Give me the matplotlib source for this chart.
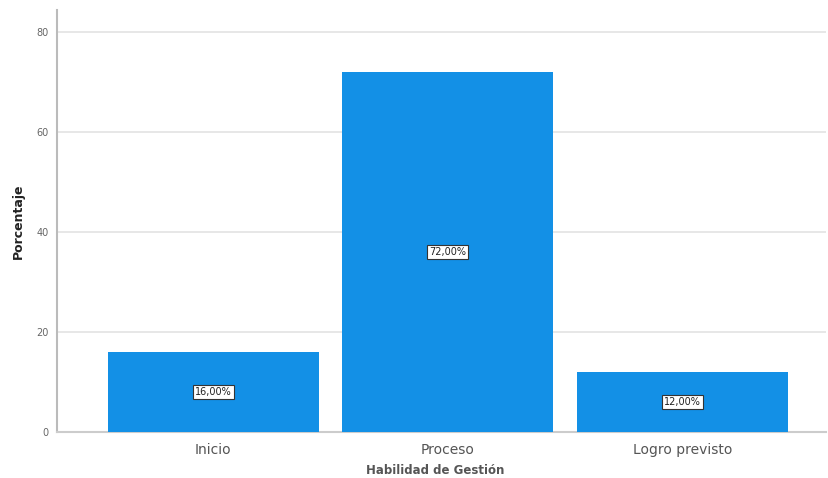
import matplotlib
matplotlib.use("Agg")
import matplotlib.pyplot as plt

categories = ["Inicio", "Proceso", "Logro previsto"]
values = [16.0, 72.0, 12.0]
yticks = [0, 20, 40, 60, 80]

fig = plt.figure(figsize=(8.29, 4.78), dpi=100)
ax = fig.add_axes([0.0688, 0.0962, 0.9272, 0.883])

x = list(range(len(categories)))
bars = ax.bar(x, values, width=0.9, color="#1390E6", zorder=3)
for xi, v in zip(x, values):
    ax.text(xi, v / 2, f"{v:.2f}%".replace(".", ","), ha="center", va="center",
            fontsize=7, color="#222222", zorder=4,
            bbox=dict(boxstyle="square,pad=0.2", fc="white", ec="#333333", lw=0.8))

ax.set_xlim(-0.667, 2.612)
ax.set_ylim(0, 84.4)
ax.set_yticks(yticks)
ax.set_yticklabels([str(t) for t in yticks], fontsize=7, color="#666666")
ax.set_xticks(x)
ax.set_xticklabels(categories, fontsize=10, color="#555555")
ax.tick_params(axis="both", length=0, pad=6)
ax.tick_params(axis="x", pad=8)
ax.yaxis.grid(True, color="#e3e3e3", lw=1.2, zorder=0)
for s in ["top", "right"]:
    ax.spines[s].set_visible(False)
ax.spines["left"].set_color("#bbbbbb")
ax.spines["left"].set_linewidth(1.5)
ax.spines["bottom"].set_color("#cccccc")
ax.spines["bottom"].set_linewidth(1.5)

ax.set_ylabel("Porcentaje", fontsize=9, fontweight="bold", color="#222222", labelpad=8)
fig.text(0.525, 0.003, "Habilidad de Gestión", ha="center", va="bottom", fontsize=8.5,
         fontweight="bold", color="#555555")

fig.savefig("out.png", dpi=100)
